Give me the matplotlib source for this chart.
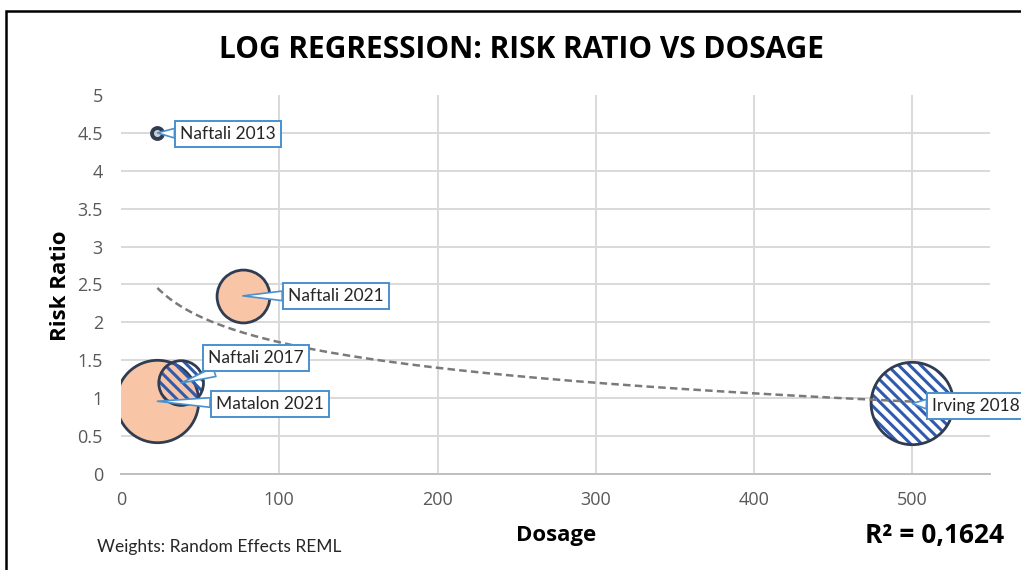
import numpy as np
import matplotlib.pyplot as plt
from matplotlib.patches import Rectangle

# --- data ---
studies = ["Naftali 2013", "Naftali 2017", "Matalon 2021", "Naftali 2021", "Irving 2018"]
dosage = [23, 38, 23, 77, 500]
risk_ratio = [4.5, 1.2, 0.96, 2.35, 0.93]
bubble_weight = [30, 500, 1700, 700, 1700]   # relative bubble area
x_ticks = [0, 100, 200, 300, 400, 500]
y_ticks = [0, 0.5, 1, 1.5, 2, 2.5, 3, 3.5, 4, 4.5, 5]

title = "LOG REGRESSION: RISK RATIO VS DOSAGE"
r2_text = "R² = 0,1624"
note_text = "Weights: Random Effects REML"

# per-study look: (fill, hatched, drawing order)
style = {
    "Naftali 2013": ("#D0D0D0", False, 3),
    "Naftali 2017": ("none", True, 4),
    "Matalon 2021": ("#F8C6A6", False, 3),
    "Naftali 2021": ("#F8C6A6", False, 3),
    "Irving 2018": ("white", True, 3),
}
label_offset = {
    "Naftali 2013": (51, -1),
    "Naftali 2017": (54, 18),
    "Matalon 2021": (81, -2),
    "Naftali 2021": (67, 0),
    "Irving 2018": (46, -2),
}

OUTLINE = "#2F3C52"
HATCH = "#2F5AAE"
CALLOUT = "#4A90CF"
TICK = "#595959"
WIDE = ["Open Sans", "DejaVu Sans"]

plt.rcParams["font.family"] = ["Lato", "DejaVu Sans"]
plt.rcParams["hatch.linewidth"] = 2.2

fig = plt.figure(figsize=(10.21, 5.70), dpi=100)
ax = fig.add_axes([0.1185, 0.1684, 0.851, 0.665])

sizes = np.array(bubble_weight) * 2.07
for name, x, y, s in zip(studies, dosage, risk_ratio, sizes):
    fill, hatched, z = style[name]
    if hatched:
        ax.scatter([x], [y], s=s, facecolor=fill, edgecolor=HATCH,
                   hatch="\\\\\\", linewidth=0, zorder=z)
        ax.scatter([x], [y], s=s, facecolor="none", edgecolor=OUTLINE,
                   linewidth=2.0, zorder=z)
    else:
        lw = 2.8 if s < 100 else 2.0
        ax.scatter([x], [y], s=s, facecolor=fill, edgecolor=OUTLINE,
                   linewidth=lw, zorder=z)

# logarithmic trend line fitted on the points
b, a = np.polyfit(np.log(dosage), risk_ratio, 1)
xs = np.linspace(min(dosage), max(dosage), 300)
ax.plot(xs, a + b * np.log(xs), color="#7A7A7A", linewidth=1.8,
        linestyle=(0, (3, 1.7)), zorder=5)

# data callouts
for name, x, y in zip(studies, dosage, risk_ratio):
    ax.annotate(name, xy=(x, y), xytext=label_offset[name],
                textcoords="offset points", ha="center", va="center",
                fontsize=12.5, color="#262626", zorder=6, annotation_clip=False,
                bbox=dict(boxstyle="square,pad=0.3", fc="white",
                          ec=CALLOUT, lw=1.4),
                arrowprops=dict(arrowstyle="wedge,tail_width=0.55,shrink_factor=0.5",
                                fc="white", ec=CALLOUT, lw=1.2,
                                shrinkA=0, shrinkB=0))

ax.set_xlim(0, 549)
ax.set_ylim(0, 5)
ax.set_xticks(x_ticks)
ax.set_yticks(y_ticks)
ax.set_yticklabels([f"{v:g}" for v in y_ticks])
ax.tick_params(length=0, colors=TICK, labelsize=13)
ax.tick_params(axis="x", pad=12)
ax.tick_params(axis="y", pad=13)
for lab in ax.get_xticklabels() + ax.get_yticklabels():
    lab.set_fontfamily(WIDE)

for v in y_ticks[1:-1]:
    ax.axhline(v, color="#D9D9D9", linewidth=1.4, zorder=1)
for v in x_ticks[1:]:
    ax.axvline(v, color="#D9D9D9", linewidth=1.4, zorder=1)
for side in ["top", "right", "left"]:
    ax.spines[side].set_visible(False)
ax.spines["bottom"].set_color("#BFBFBF")
ax.spines["bottom"].set_linewidth(1.4)

fig.text(60 / 1021, 1 - 286 / 570, "Risk Ratio", fontsize=16, fontweight="bold",
         rotation=90, ha="center", va="center", family=WIDE)
fig.text(556 / 1021, 1 - 536 / 570, "Dosage", fontsize=16, fontweight="bold",
         ha="center", va="center", family=WIDE)
fig.text(97 / 1021, 1 - 547 / 570, note_text, fontsize=12.5, ha="left", va="center",
         color="#262626")
fig.text(865 / 1021, 1 - 536 / 570, r2_text, fontsize=19, fontweight="bold",
         ha="left", va="center", family=WIDE)
fig.text(521 / 1021, 1 - 50 / 570, title, fontsize=21.5, fontweight="bold",
         ha="center", va="center", family=WIDE)

# chart frame (cropped on the right and bottom in the reference)
fig.patches.append(Rectangle((6 / 1021, -0.05), 1.2, 1 - 11 / 570 + 0.05,
                             transform=fig.transFigure, fill=False,
                             edgecolor="black", linewidth=1.8))

fig.savefig("out.png", dpi=100)
